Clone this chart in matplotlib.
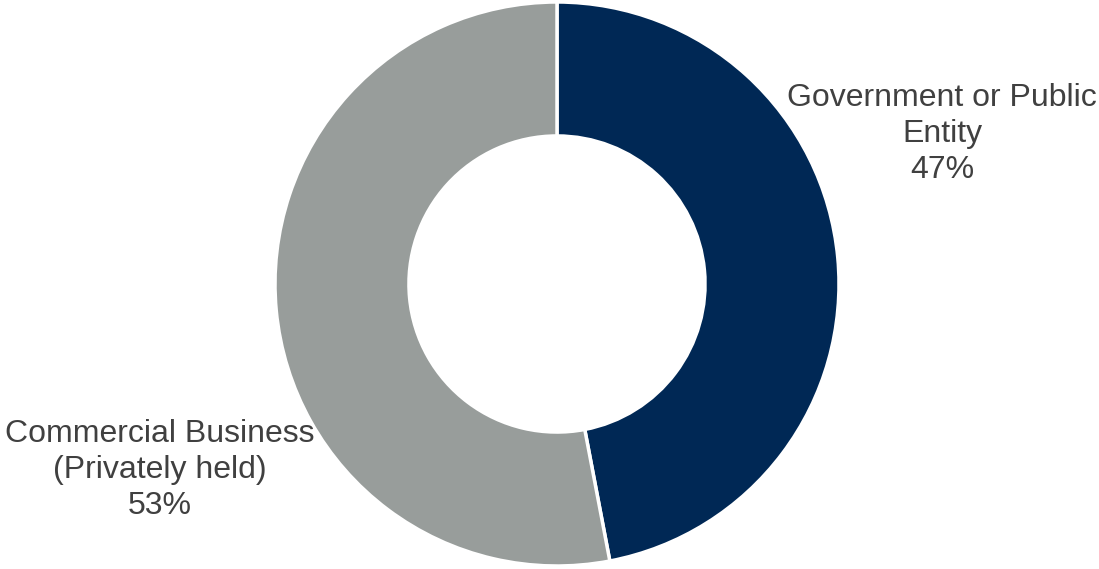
import matplotlib
matplotlib.use("Agg")
import matplotlib.pyplot as plt

categories = ["Government or Public\nEntity", "Commercial Business\n(Privately held)"]
shares = [47, 53]
colors = ["#002855", "#989d9b"]

W, H = 1099, 569
fig = plt.figure(figsize=(W / 100, H / 100), dpi=100)
ax = fig.add_axes([0, 0, 1, 1])

cx, cy, r = 557, H - 284, 282
ax.pie(shares, colors=colors, startangle=90, counterclock=False,
       center=(cx, cy), radius=r, frame=True,
       wedgeprops=dict(width=r * 0.475, edgecolor="white", linewidth=2.5))
ax.set_xlim(0, W)
ax.set_ylim(0, H)
ax.set_aspect("equal")
ax.axis("off")

label_pos = [(942, H - 134), (160, H - 470)]
for name, val, (x, y) in zip(categories, shares, label_pos):
    ax.text(x, y, f"{name}\n{val}%", ha="center", va="center",
            fontsize=23, color="#404040", family="Liberation Sans",
            linespacing=1.27)

fig.savefig("out.png", dpi=100)
